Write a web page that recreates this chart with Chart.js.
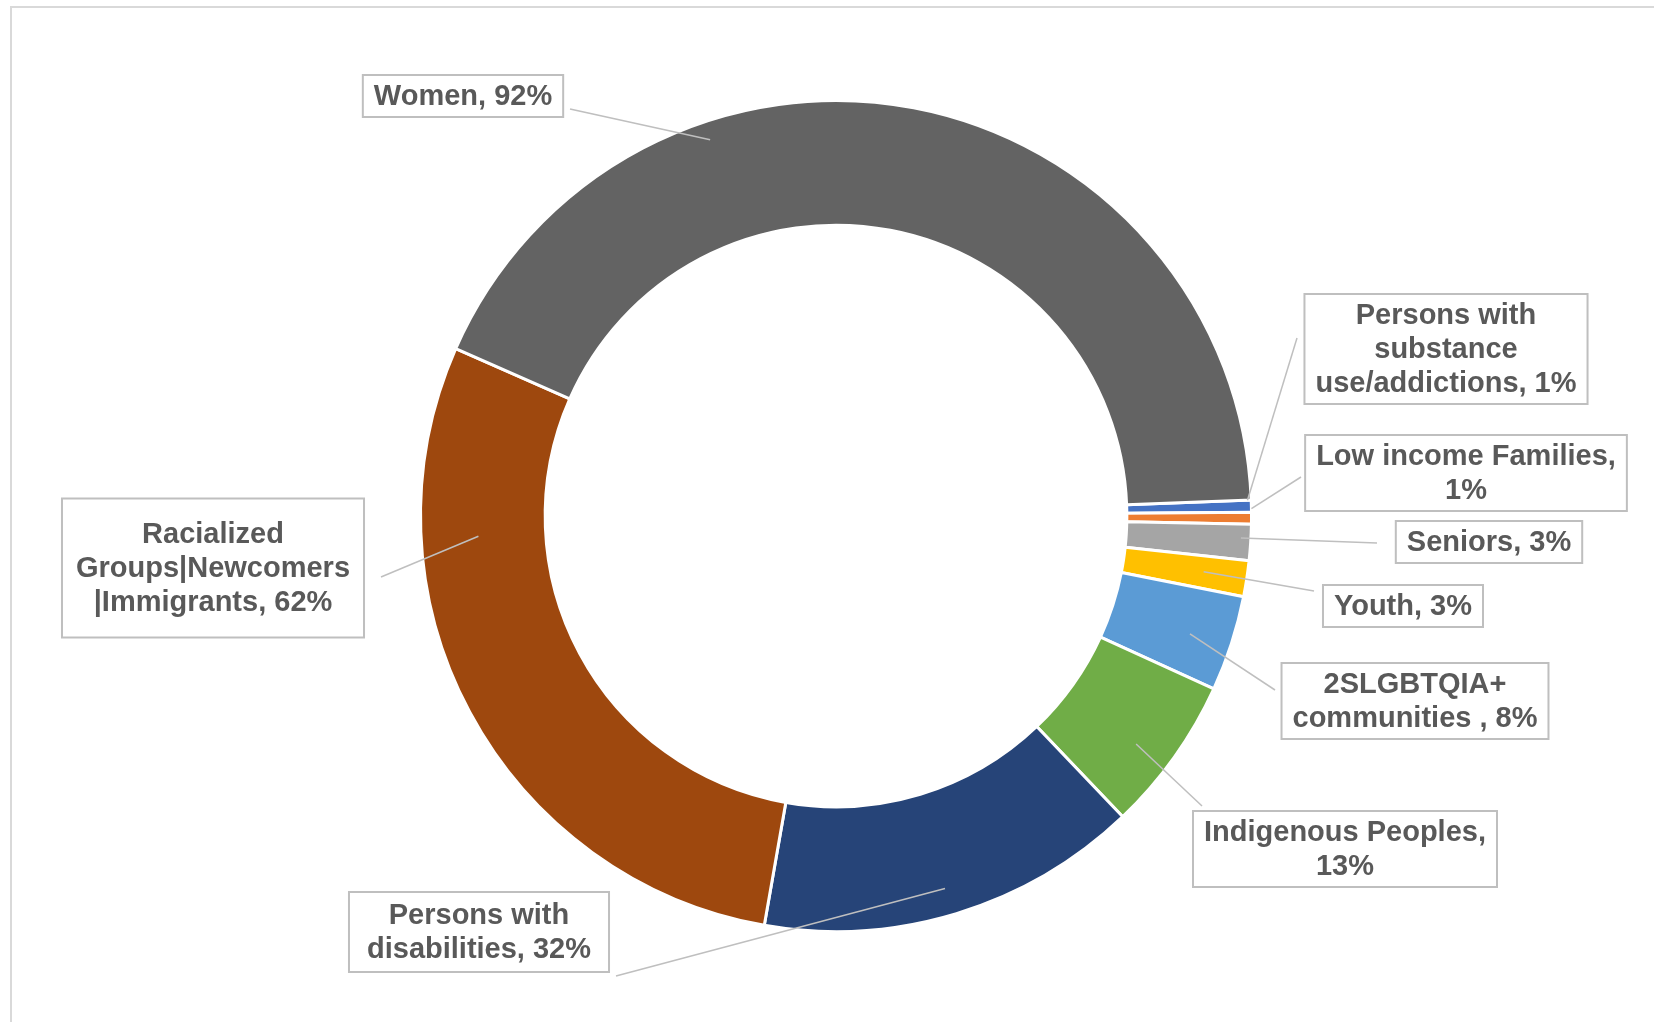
<!DOCTYPE html>
<html>
<head>
<meta charset="utf-8">
<script src="https://cdn.jsdelivr.net/npm/chart.js@4.4.1/dist/chart.umd.min.js"></script>
<style>
  html, body { margin: 0; padding: 0; background: #fff; }
  #wrap { position: relative; width: 1654px; height: 1022px; }
  #frame { position: absolute; left: 10px; top: 6px; right: -4px; bottom: -4px; border: 2px solid #d9d9d9; }
</style>
</head>
<body>
<div id="wrap">
  <div id="frame"></div>
  <canvas id="donut" width="1654" height="1022"></canvas>
</div>
<script>
// Data (clockwise from the first slice, Excel order)
const categories = [
    'Persons with substance use/addictions',
    'Low income Families',
    'Seniors',
    'Youth',
    '2SLGBTQIA+ communities ',
    'Indigenous Peoples',
    'Persons with disabilities',
    'Racialized Groups|Newcomers |Immigrants',
    'Women'
];
const percents = [1, 1, 3, 3, 8, 13, 32, 62, 92];
const colors = ['#4472C4', '#ED7D31', '#A5A5A5', '#FFC000', '#5B9BD5', '#70AD47', '#264478', '#9E480E', '#636363'];

// Label layout: box centre, wrap width, leader start, anchor in slice (t = along arc, u = across ring)
const labelLayout = [
    { cx: 1446, cy: 349, wrap: 270, lx: 1297, ly: 338, t: 0.0,  u: 0.97 },
    { cx: 1466, cy: 473, wrap: 305, lx: 1301, ly: 477, t: -0.3, u: 1.0 },
    { cx: 1489, cy: 542, wrap: 400, lx: 1377, ly: 543, t: 0.39, u: 0.92 },
    { cx: 1403, cy: 606, wrap: 400, lx: 1314, ly: 591, t: 0.49, u: 0.65 },
    { cx: 1415, cy: 701, wrap: 250, lx: 1275, ly: 690, t: 0.54, u: 0.66 },
    { cx: 1345, cy: 849, wrap: 292, lx: 1202, ly: 806, t: 0.58, u: 0.69 },
    { cx: 479,  cy: 932, wrap: 240, lx: 616,  ly: 976, t: 0.51, u: 0.78, padX: 14, padY: 4 },
    { cx: 213,  cy: 568, wrap: 272, lx: 381,  ly: 577, t: 0.74, u: 0.54, padX: 6, padY: 29 },
    { cx: 463,  cy: 96,  wrap: 400, lx: 570,  ly: 109, t: 0.31, u: 0.85 }
];

const FONT = 'bold 29px "Liberation Sans", Arial, sans-serif';
const LINE_H = 34;

function wrapText(ctx, text, maxW) {
    const words = text.split(' ');
    const lines = [];
    let cur = '';
    words.forEach(w => {
        const test = cur ? cur + ' ' + w : w;
        if (cur && ctx.measureText(test).width > maxW) {
            lines.push(cur);
            cur = w;
        } else {
            cur = test;
        }
    });
    if (cur) lines.push(cur);
    return lines;
}

// Data labels with boxes and leader lines
const calloutPlugin = {
    id: 'callouts',
    afterDatasetsDraw(chart) {
        const ctx = chart.ctx;
        const meta = chart.getDatasetMeta(0);
        ctx.save();
        ctx.font = FONT;
        meta.data.forEach((arc, i) => {
            const L = labelLayout[i];
            const p = arc.getProps(['x', 'y', 'startAngle', 'endAngle', 'innerRadius', 'outerRadius'], true);
            const a = p.startAngle + L.t * (p.endAngle - p.startAngle);
            const r = p.innerRadius + L.u * (p.outerRadius - p.innerRadius);
            const ax = p.x + Math.cos(a) * r;
            const ay = p.y + Math.sin(a) * r;

            // leader line
            ctx.strokeStyle = '#bfbfbf';
            ctx.lineWidth = 1.5;
            ctx.beginPath();
            ctx.moveTo(L.lx, L.ly);
            ctx.lineTo(ax, ay);
            ctx.stroke();

            // box
            const text = categories[i] + ', ' + percents[i] + '%';
            const lines = wrapText(ctx, text, L.wrap);
            const w = Math.max(...lines.map(l => ctx.measureText(l).width)) + 22 + (L.padX || 0);
            const h = lines.length * LINE_H + 8 + (L.padY || 0);
            const bx = L.cx - w / 2, by = L.cy - h / 2;
            ctx.fillStyle = '#ffffff';
            ctx.fillRect(bx, by, w, h);
            ctx.strokeStyle = '#bfbfbf';
            ctx.lineWidth = 2;
            ctx.strokeRect(bx, by, w, h);

            ctx.fillStyle = '#595959';
            ctx.textAlign = 'center';
            ctx.textBaseline = 'middle';
            const top = L.cy - (lines.length * LINE_H) / 2;
            lines.forEach((l, k) => {
                ctx.fillText(l, L.cx, top + LINE_H * k + LINE_H / 2 + 1);
            });
        });
        ctx.restore();
    }
};

new Chart(document.getElementById('donut'), {
    type: 'doughnut',
    data: {
        labels: categories,
        datasets: [{
            data: percents,
            backgroundColor: colors,
            borderColor: '#ffffff',
            borderWidth: 3,
            hoverOffset: 0
        }]
    },
    options: {
        responsive: false,
        animation: false,
        rotation: 87.8,
        cutout: '70%',
        layout: { padding: { left: 419, right: 401, top: 99, bottom: 89 } },
        plugins: {
            legend: { display: false },
            tooltip: { enabled: false }
        }
    },
    plugins: [calloutPlugin]
});
</script>
</body>
</html>
